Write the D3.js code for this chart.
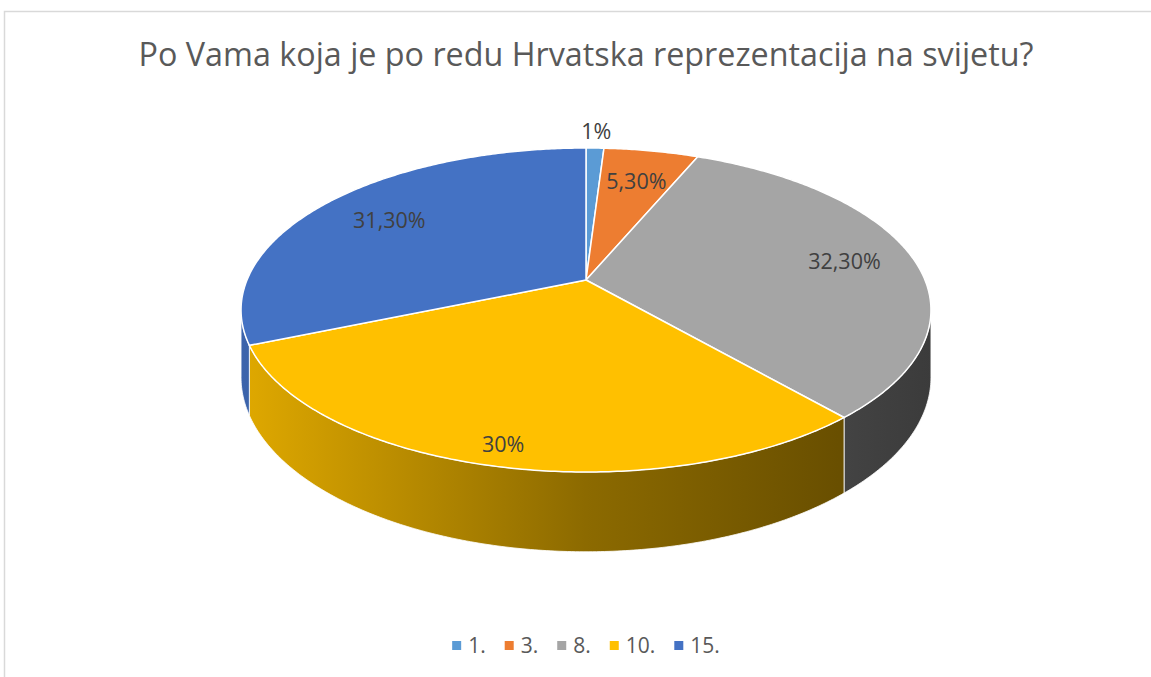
<!DOCTYPE html>
<html>
<head>
<meta charset="utf-8">
<script src="https://cdn.jsdelivr.net/npm/d3@7"></script>
<style>
  html, body { margin: 0; padding: 0; background: #fff; }
  svg { display: block; font-family: "Open Sans", "Noto Sans", sans-serif; }
</style>
</head>
<body>
<svg id="chart"></svg>
<script>
// data
const categories = ['1.', '3.', '8.', '10.', '15.'];
const values = [1, 5.3, 32.3, 30, 31.3];
const valueLabels = ['1%', '5,30%', '32,30%', '30%', '31,30%'];
const colors = ['#5B9BD5', '#ED7D31', '#A5A5A5', '#FFC000', '#4472C4'];

// constants
const WIDTH = 1151;
const HEIGHT = 677;
const TITLE = 'Po Vama koja je po redu Hrvatska reprezentacija na svijetu?';

// pie geometry (perspective ellipse)
const CX = 586;
const CY = 310;
const A = 339;       // horizontal scale
const B = 162;       // vertical half-height of top face
const C = 0.185;     // perspective factor
const DEPTH = 65;    // wall height (scaled by perspective)
const labelRadius = [1.16, 0.74, 0.79, 0.9, 0.75];

const svg = d3.select('#chart')
    .attr('width', WIDTH)
    .attr('height', HEIGHT);

const color = d3.scaleOrdinal().domain(categories).range(colors);

// chart border
svg.append('path')
    .attr('d', `M4.5,${HEIGHT + 5} V11.5 H${WIDTH + 5}`)
    .attr('fill', 'none')
    .attr('stroke', '#D9D9D9')
    .attr('stroke-width', 1.5);

// title
const title = svg.append('text')
    .attr('x', CX)
    .attr('y', 66)
    .attr('text-anchor', 'middle')
    .attr('fill', '#595959')
    .attr('font-size', 30)
    .text(TITLE);
const tw = title.node().getComputedTextLength();
title.attr('font-size', 30 * 895 / tw);

// project a point of the unit disc (angle from 12 o'clock, clockwise)
function project(theta, r, down) {
    const u = r * Math.sin(theta);
    const v = -r * Math.cos(theta);
    const w = 1 - C * v;
    return [CX + A * u / w, CY + B * (v - C) / w + (down ? DEPTH / w : 0)];
}

function arcPoints(a0, a1, r, down) {
    const n = Math.max(2, Math.ceil(Math.abs(a1 - a0) / 0.01));
    return d3.range(n + 1).map(i => project(a0 + (a1 - a0) * i / n, r, down));
}

const pie = d3.pie().sort(null).value(d => d)
    .startAngle(0).endAngle(2 * Math.PI);
const arcs = pie(values);
const line = d3.line();

// side gradients
const defs = svg.append('defs');
const shade = [[0, 0.88], [0.5, 0.55], [1, 0.36]];
colors.forEach((c, i) => {
    const g = defs.append('linearGradient')
        .attr('id', `side-${i}`)
        .attr('gradientUnits', 'userSpaceOnUse')
        .attr('x1', CX - A * 1.02).attr('x2', CX + A * 1.02)
        .attr('y1', 0).attr('y2', 0);
    const rgb = d3.rgb(c);
    shade.forEach(([o, f]) => {
        g.append('stop')
            .attr('offset', o)
            .attr('stop-color', d3.rgb(rgb.r * f, rgb.g * f, rgb.b * f).formatHex());
    });
});

// walls (front part only)
const visFrom = Math.acos(-C);
const visTo = 2 * Math.PI - visFrom;
const walls = svg.append('g');
arcs.forEach((d, i) => {
    const s = Math.max(d.startAngle, visFrom);
    const e = Math.min(d.endAngle, visTo);
    if (e <= s) return;
    const pts = arcPoints(s, e, 1, false).concat(arcPoints(e, s, 1, true));
    walls.append('path')
        .attr('d', line(pts) + 'Z')
        .attr('fill', `url(#side-${i})`)
        .attr('stroke', '#fff')
        .attr('stroke-width', 0.8)
        .attr('stroke-linejoin', 'round');
});

// top faces
const apex = project(0, 0, false);
svg.append('g').selectAll('path')
    .data(arcs).join('path')
    .attr('d', d => line([apex].concat(arcPoints(d.startAngle, d.endAngle, 1, false))) + 'Z')
    .attr('fill', (d, i) => color(categories[i]))
    .attr('stroke', '#fff')
    .attr('stroke-width', 1.5)
    .attr('stroke-linejoin', 'round');

// data labels
svg.append('g').selectAll('text')
    .data(arcs).join('text')
    .attr('x', (d, i) => project((d.startAngle + d.endAngle) / 2, labelRadius[i], false)[0])
    .attr('y', (d, i) => project((d.startAngle + d.endAngle) / 2, labelRadius[i], false)[1])
    .attr('text-anchor', 'middle')
    .attr('dominant-baseline', 'central')
    .attr('font-size', 21.5)
    .attr('fill', '#404040')
    .text((d, i) => valueLabels[i]);

// legend
const legend = svg.append('g');
const items = legend.selectAll('g')
    .data(categories).join('g');
items.append('rect')
    .attr('width', 9).attr('height', 9)
    .attr('y', 641)
    .attr('fill', d => color(d));
items.append('text')
    .attr('x', 16)
    .attr('y', 653)
    .attr('font-size', 21)
    .attr('fill', '#595959')
    .text(d => d);
let offset = 0;
const pos = [];
items.each(function() {
    pos.push(offset);
    offset += 16 + d3.select(this).select('text').node().getComputedTextLength() + 19;
});
const total = offset - 19;
items.attr('transform', (d, i) => `translate(${CX - total / 2 + pos[i]},0)`);
</script>
</body>
</html>
